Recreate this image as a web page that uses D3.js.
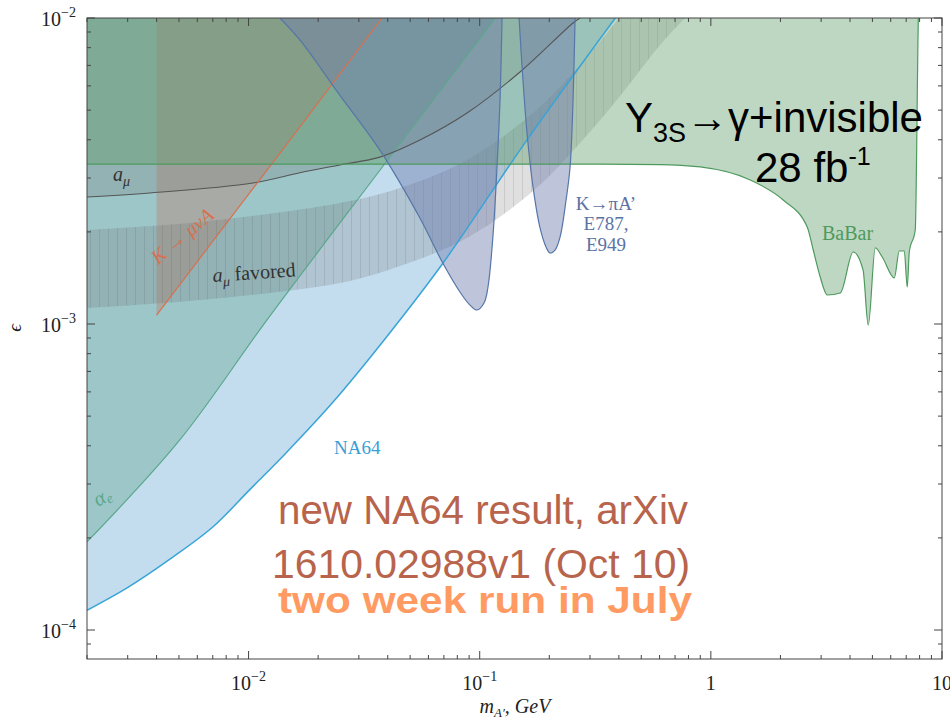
<!DOCTYPE html>
<html><head><meta charset="utf-8">
<script src="https://cdn.jsdelivr.net/npm/d3@7"></script>
<style>body{margin:0;background:#fff}svg{display:block}</style>
</head><body>
<svg id="c" width="950" height="720"></svg>
<script>
// ---------- data ----------
const xDomain = [0.002, 10];          // m_A' (GeV)
const yDomain = [8.04e-5, 0.01];      // epsilon
const xMajorTicks = [0.01, 0.1, 1, 10];
const xTickLabels = [["10","−2"],["10","−1"],["1",""],["10",""]];
const yMajorTicks = [1e-4, 1e-3, 1e-2];
const yTickLabels = [["10","−4"],["10","−3"],["10","−2"]];

const na64Limit = [[0.002,1.16e-4],[0.00297,1.37e-4],[0.0047,1.73e-4],[0.007,2.17e-4],[0.0101,2.87e-4],[0.01466,3.82e-4],[0.0232,5.56e-4],[0.0386,8.87e-4],[0.0693,1.58e-3],[0.16,3.99e-3],[0.386,0.01]];
const aeLimit = [[0.002,1.94e-4],[0.00504,4.18e-4],[0.012,1.03e-3],[0.037,3.18e-3],[0.117,0.01]];
const amuLimit = [[0.002,0.0026],[0.00374,0.00268],[0.01044,0.00289],[0.01667,0.00312],[0.0248,0.00331],[0.037,0.00351],[0.0551,0.00399],[0.0881,0.00489],[0.1494,0.00666],[0.2534,0.00963],[0.2718,0.01]];
const amuBandUpper = [[0.002,0.002029],[0.006156,0.002154],[0.02484,0.002485],[0.04519,0.002782],[0.0881,0.003436],[0.1701,0.00489],[0.2718,0.00702],[0.4009,0.01]];
const amuBandLower = [[0.002,0.001128],[0.006156,0.001198],[0.02484,0.001361],[0.04519,0.001547],[0.0881,0.00191],[0.1701,0.00272],[0.2718,0.003905],[0.4049,0.005561],[0.6034,0.00816],[0.7739,0.01]];
const kmunuLimit = [[0.004,0.00107],[0.0151,0.00399],[0.0378,0.01]];
const babarLimit = [[0.002,0.00333],[0.332,0.00333],[0.6,0.00332],[0.899,0.00326],[1.48,0.002955],[2.056,0.002542],[2.612,0.002075],[2.773,0.001745],[2.973,0.001424],[3.188,0.001244],[3.629,0.001263],[4.13,0.001719],[4.554,0.001502],[4.797,0.000992],[5.144,0.001772],[5.514,0.001656],[6.217,0.001414],[6.535,0.001732],[6.868,0.001732],[7.075,0.001321],[7.218,0.001719],[7.662,0.002029],[7.88,0.00893],[7.9,0.01]];
const kpiLimit1 = [[0.01366,0.01],[0.01667,0.00848],[0.0248,0.0056],[0.037,0.0037],[0.0551,0.00222],[0.0693,0.00158],[0.0838,0.001244],[0.0908,0.001153],[0.0973,0.001111],[0.1044,0.001171],[0.1086,0.001321],[0.1142,0.001954],[0.1188,0.003259],[0.1224,0.00539],[0.1249,0.01]];
const kpiLimit2 = [[0.148,0.01],[0.1525,0.00692],[0.1602,0.00421],[0.1701,0.0028],[0.1824,0.00206],[0.1936,0.001785],[0.2015,0.001706],[0.2118,0.001745],[0.2227,0.001925],[0.2364,0.002542],[0.246,0.003259],[0.2534,0.00539],[0.2586,0.01]];

// ---------- setup ----------
const L = 87, R = 942, T = 18, B = 659;
const svg = d3.select("#c");
const x = d3.scaleLog().domain(xDomain).range([L, R]);
const y = d3.scaleLog().domain(yDomain).range([B, T]);
const defs = svg.append("defs");
defs.append("clipPath").attr("id","clip").append("rect")
  .attr("x",L).attr("y",T).attr("width",R-L).attr("height",B-T);
const pat = defs.append("pattern").attr("id","hatch").attr("patternUnits","userSpaceOnUse")
  .attr("width",9).attr("height",10);
pat.append("line").attr("x1",0.5).attr("x2",0.5).attr("y1",0).attr("y2",10)
  .attr("stroke","rgba(70,70,70,0.15)").attr("stroke-width",0.9);

const cr = d3.curveCatmullRom.alpha(0.5);
const line = (pts, curve) => d3.line().x(d => x(d[0])).y(d => y(d[1])).curve(curve || cr)(pts);
const topLeft = `L${x(xDomain[0])},${y(yDomain[1])}Z`;
const g = svg.append("g").attr("clip-path","url(#clip)");

// regions
g.append("path").attr("d", line(na64Limit) + topLeft).attr("fill","#c3ddef");
g.append("path").attr("d", line(aeLimit) + topLeft).attr("fill","rgba(105,168,148,0.42)");
g.append("path").attr("d", line(kmunuLimit, d3.curveLinear) + `L${x(kmunuLimit[0][0])},${y(yDomain[1])}Z`)
  .attr("fill","rgba(200,100,70,0.27)");
const bandPath = line(amuBandUpper) + line(amuBandLower.slice().reverse()).replace(/^M/,"L") + "Z";
g.append("path").attr("d", bandPath).attr("fill","rgba(110,110,110,0.22)");
g.append("path").attr("d", bandPath).attr("fill","url(#hatch)");
g.append("path").attr("d", line(amuLimit) + topLeft).attr("fill","rgba(120,120,120,0.25)");
g.append("path").attr("d", line(babarLimit, d3.curveMonotoneX) + topLeft).attr("fill","rgba(100,160,110,0.42)");
[kpiLimit1, kpiLimit2].forEach(s => {
  g.append("path").attr("d", line(s) + "Z").attr("fill","rgba(111,124,173,0.45)");
});

// boundary lines
const stroke = (pts, color, curve, w) => g.append("path").attr("d", line(pts, curve))
  .attr("fill","none").attr("stroke",color).attr("stroke-width", w || 1.2);
stroke(aeLimit, "#5aa88a");
stroke(amuLimit, "#555555", undefined, 1.1);
stroke(kmunuLimit, "#d8704f", d3.curveLinear);
stroke(na64Limit, "#38a4d8", undefined, 1.5);
stroke(babarLimit, "#4e9a5e", d3.curveMonotoneX);
stroke(kpiLimit1, "#5676a8");
stroke(kpiLimit2, "#5676a8");

// ---------- axes / frame ----------
const ax = svg.append("g").attr("stroke","#444").attr("stroke-width",1);
ax.append("rect").attr("x",L).attr("y",T).attr("width",R-L).attr("height",B-T).attr("fill","none");
function logTicks(domain){
  const out=[]; for(let e=-6;e<=2;e++) for(let k=1;k<10;k++){const v=k*Math.pow(10,e); if(v>=domain[0]*0.999 && v<=domain[1]*1.001) out.push({v, major:k===1});}
  return out;
}
logTicks(xDomain).forEach(t => {
  const len = t.major ? 8 : 4, px = x(t.v);
  ax.append("line").attr("x1",px).attr("x2",px).attr("y1",B).attr("y2",B-len);
  ax.append("line").attr("x1",px).attr("x2",px).attr("y1",T).attr("y2",T+len);
});
logTicks(yDomain).forEach(t => {
  const len = t.major ? 8 : 4, py = y(t.v);
  ax.append("line").attr("x1",L).attr("x2",L+len).attr("y1",py).attr("y2",py);
  ax.append("line").attr("x1",R).attr("x2",R-len).attr("y1",py).attr("y2",py);
});

const serif = "'Liberation Serif','DejaVu Serif',serif";
xMajorTicks.forEach((v,i) => {
  const t = svg.append("text").attr("x",x(v)).attr("y",690).attr("text-anchor","middle")
    .attr("font-family",serif).attr("font-size",20).attr("fill","#222");
  t.append("tspan").text(xTickLabels[i][0]);
  if (xTickLabels[i][1]) t.append("tspan").attr("dy",-9).attr("font-size",14).text(xTickLabels[i][1]);
});
yMajorTicks.forEach((v,i) => {
  const t = svg.append("text").attr("x",76).attr("y",y(v)+8).attr("text-anchor","end")
    .attr("font-family",serif).attr("font-size",20).attr("fill","#222");
  t.append("tspan").text(yTickLabels[i][0]);
  t.append("tspan").attr("dy",-9).attr("font-size",14).text(yTickLabels[i][1]);
});
// axis titles
svg.append("text").attr("transform","translate(21,328) rotate(-90)").attr("text-anchor","middle")
  .attr("font-family",serif).attr("font-style","italic").attr("font-size",19).attr("fill","#222").text("ϵ");
const xl = svg.append("text").attr("x",515).attr("y",713).attr("text-anchor","middle")
  .attr("font-family",serif).attr("font-style","italic").attr("font-size",20).attr("fill","#222");
xl.append("tspan").text("m");
xl.append("tspan").attr("dy",4).attr("font-size",13).text("A′");
xl.append("tspan").attr("dy",-4).text(", GeV");

// ---------- annotations ----------
const lab = (tx, ty, str, color, size, extra) => {
  const t = svg.append("text").attr("x",tx).attr("y",ty).attr("font-family",serif)
    .attr("font-size",size).attr("fill",color).text(str);
  if (extra) extra(t);
  return t;
};
// a_mu
const amuT = svg.append("text").attr("x",113).attr("y",181).attr("font-family",serif).attr("font-style","italic")
  .attr("font-size",20).attr("fill","#333");
amuT.append("tspan").text("a");
amuT.append("tspan").attr("dy",5).attr("font-size",14).text("μ");
// a_mu favored
const amuF = svg.append("text").attr("transform","translate(213,282) rotate(-4)").attr("font-family",serif)
  .attr("font-size",20).attr("fill","#333");
amuF.append("tspan").attr("font-style","italic").text("a");
amuF.append("tspan").attr("dy",5).attr("font-size",14).attr("font-style","italic").text("μ");
amuF.append("tspan").attr("dy",-5).text(" favored");
// K -> mu nu A
svg.append("text").attr("transform","translate(158,265) rotate(-40)").attr("font-family",serif)
  .attr("font-style","italic").attr("font-size",20).attr("fill","#d8704f").text("K → μνA");
// a_e
const aeT = svg.append("text").attr("transform","translate(98,507) rotate(-30)").attr("font-family",serif)
  .attr("font-style","italic").attr("font-size",21).attr("fill","#5aa88a");
aeT.append("tspan").text("α");
aeT.append("tspan").attr("dy",3).attr("font-size",14).text("e");
// NA64
lab(334,454,"NA64","#3aa0d4",19);
// K -> pi A'
[["K→πA’",210],["E787,",230],["E949",251]].forEach(d =>
  lab(606,d[1],d[0],"#5a72a4",19,t=>t.attr("text-anchor","middle")));
// BaBar
lab(822,240,"BaBar","#4e9a5e",20);

// Upsilon text
const sans = "'Liberation Sans',Arial,Helvetica,sans-serif";
const ups = svg.append("text").attr("x",625).attr("y",132).attr("font-family",sans).attr("font-size",42).attr("fill","#000");
ups.append("tspan").text("Y");
ups.append("tspan").attr("dy",10).attr("font-size",27).text("3S");
ups.append("tspan").attr("dy",-10).text("→γ+invisible");
const lum = svg.append("text").attr("x",755).attr("y",182).attr("font-family",sans).attr("font-size",42).attr("fill","#000");
lum.append("tspan").text("28 fb");
lum.append("tspan").attr("dy",-17).attr("font-size",25).text("-1");

// NA64 result note
svg.append("text").attr("x",278).attr("y",524).attr("font-family",sans).attr("font-size",40)
  .attr("fill","#b8644c").attr("textLength",410).attr("lengthAdjust","spacingAndGlyphs").text("new NA64 result, arXiv");
svg.append("text").attr("x",272).attr("y",578).attr("font-family",sans).attr("font-size",40)
  .attr("fill","#b8644c").attr("textLength",418).attr("lengthAdjust","spacingAndGlyphs").text("1610.02988v1 (Oct 10)");
svg.append("text").attr("x",278).attr("y",613).attr("font-family",sans).attr("font-size",36).attr("font-weight","bold")
  .attr("fill","#ff9a62").attr("textLength",414).attr("lengthAdjust","spacingAndGlyphs").text("two week run in July");
</script>
</body></html>
